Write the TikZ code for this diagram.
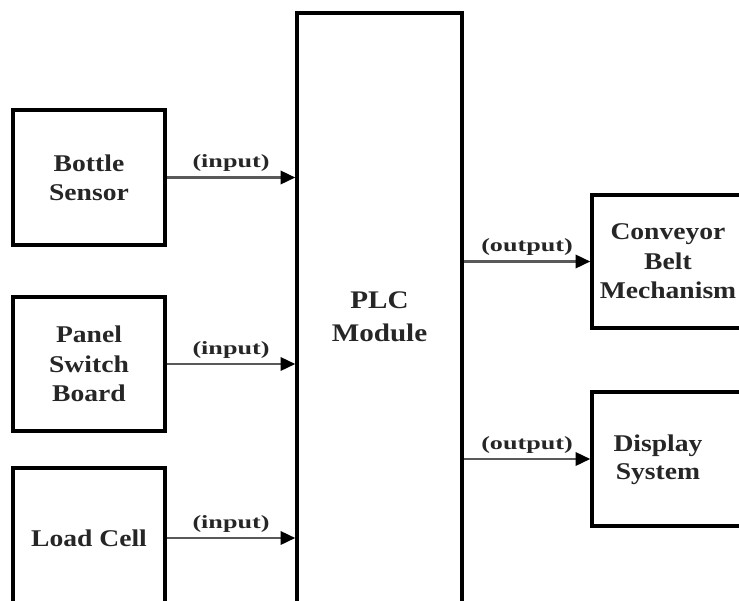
\documentclass[tikz,border=0pt]{standalone}
\usepackage{fontspec}
\setmainfont{Liberation Serif}
\newfontfamily\boxfont{Liberation Serif}[FakeStretch=1.15]
\newfontfamily\lblfont{Liberation Serif}[FakeStretch=1.4]
\usetikzlibrary{arrows.meta}
\begin{document}
\begin{tikzpicture}[x=0.75pt,y=-0.75pt,
  blk/.style={draw, line width=2.6pt, rectangle, inner sep=0pt, align=center,
    font=\boxfont\bfseries\fontsize{18}{22}\selectfont, text=black!85},
  txt/.style={inner sep=0pt, align=center,
    font=\boxfont\bfseries\fontsize{18}{21}\selectfont, text=black!85},
  arr/.style={line width=1.8pt, draw=black!65, -{Triangle[length=11pt,width=10pt,black]}},
  lbl/.style={font=\lblfont\bfseries\fontsize{14}{16}\selectfont, text=black!85, midway, yshift=10.5pt}]
\useasboundingbox (0,0) rectangle (739,600);
\clip (0,0) rectangle (739,600);
% input blocks
\node[blk, minimum width=114pt, minimum height=101.25pt] (bottle) at (89,177.5) {Bottle\\Sensor};
\node[blk, minimum width=114pt, minimum height=100.5pt] (panel) at (89,364) {Panel\\Switch\\Board};
\node[blk, minimum width=114pt, minimum height=105pt] (load) at (89,538) {Load Cell};
% PLC
\node[blk, minimum width=123.75pt, minimum height=455.25pt,
  font=\boxfont\bfseries\fontsize{19}{24.75}\selectfont] (plc) at (379.5,316.5) {PLC\\Module};
% output blocks
\node[blk, minimum width=114pt, minimum height=99.75pt] (conv) at (668,261.5) {Conveyor\\Belt\\Mechanism};
\node[blk, minimum width=133.5pt, minimum height=100.5pt] (disp) at (681,459) {};
\node[txt] (disptext) at (658,459.5) {Display\\System};
% connectors
\draw[arr] (bottle.east) -- (bottle.east -| plc.west) node[lbl]{(input)};
\draw[arr] (panel.east) -- (panel.east -| plc.west) node[lbl]{(input)};
\draw[arr] (load.east) -- (load.east -| plc.west) node[lbl]{(input)};
\draw[arr] (conv.west -| plc.east) -- (conv.west) node[lbl]{(output)};
\draw[arr] (disp.west -| plc.east) -- (disp.west) node[lbl]{(output)};
\end{tikzpicture}
\end{document}
